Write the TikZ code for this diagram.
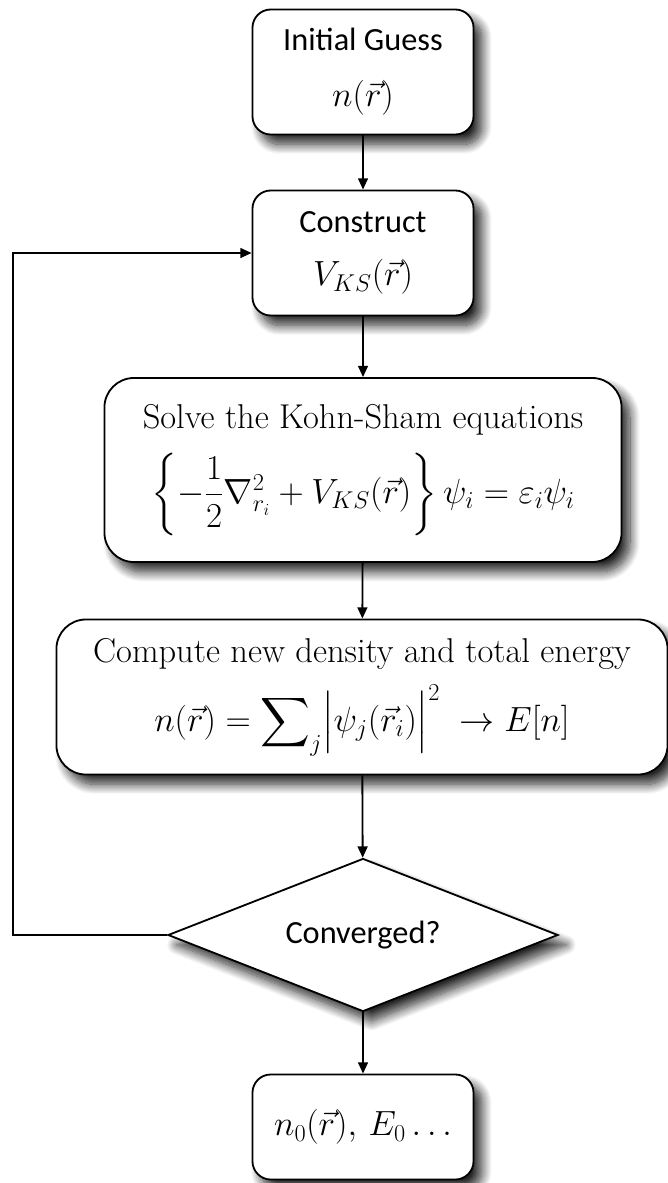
\documentclass[tikz,border=0pt]{standalone}
\usepackage{amsmath,amssymb}
\usepackage{fontspec}
\setsansfont{Carlito}
\usetikzlibrary{shapes.geometric,arrows.meta,shadows.blur}

\tikzset{
  boxshadow/.style={blur shadow={shadow xshift=6pt, shadow yshift=-7pt,
      shadow blur radius=7pt, shadow blur steps=14, shadow opacity=85}},
  stepbox/.style={draw, line width=1.3pt, fill=white, align=center,
      rounded corners=13pt, boxshadow,
      minimum width=5.525cm, minimum height=3.125cm},
  widebox/.style={stepbox, rounded corners=21pt, font=\fontsize{24.5}{36}\selectfont},
  decision/.style={draw, diamond, line width=1.3pt, fill=white, boxshadow,
      aspect=2.55, inner sep=0pt, minimum width=9.75cm, minimum height=3.825cm},
  calibri/.style={font=\fontsize{23}{36}\selectfont\sffamily},
  flow/.style={line width=1.3pt, -{Triangle[length=8pt,width=7pt]}}
}

\begin{document}
\begin{tikzpicture}[x=0.025cm, y=-0.025cm, font=\fontsize{23}{36}\selectfont]
    \useasboundingbox (0,0) rectangle (668,1183);
    \node[stepbox, calibri] (init) at (363,72) {Initial Guess\\[4pt] $n(\vec{r})$};
    \node[stepbox, calibri] (construct) at (363,253) {Construct\\[2pt] $V_{KS}(\vec{r})$};
    \node[widebox, minimum width=12.925cm, minimum height=4.6cm] (solve) at (363,470)
        {Solve the Kohn-Sham equations\\[12pt]
         $\left\{-\dfrac{1}{2}\nabla^2_{r_i} + V_{KS}(\vec{r})\right\}\psi_i = \varepsilon_i\psi_i$};
    \node[widebox, minimum width=15.275cm, minimum height=3.875cm] (compute) at (362,697)
        {Compute new density and total energy\\[10pt]
         $n(\vec{r}) = \displaystyle\sum\nolimits_j \Bigl|\psi_j(\vec{r}_i)\Bigr|^2 \;\rightarrow E[n]$};
    \node[decision, calibri] (conv) at (363,935) {Converged?};
    \node[stepbox, minimum height=2.625cm] (final) at (363,1127) {$n_0(\vec{r}),\, E_0\ldots$};
    \coordinate (loop) at (13,0);
    \draw[flow] (init) -- (construct);
    \draw[flow] (construct) -- (solve);
    \draw[flow] (solve) -- (compute);
    \draw[flow] (compute) -- (conv);
    \draw[flow] (conv) -- (final);
    \draw[flow] (conv.west) -- (conv.west -| loop) |- (construct.west);
\end{tikzpicture}
\end{document}
